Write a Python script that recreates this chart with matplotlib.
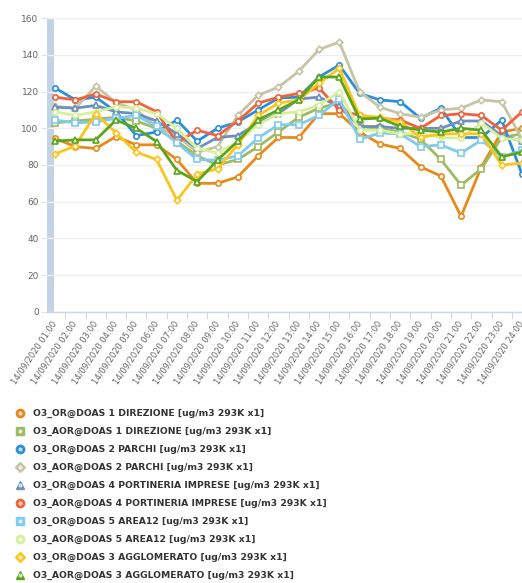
import matplotlib
matplotlib.use("Agg")
import matplotlib.pyplot as plt
from matplotlib.lines import Line2D
import numpy as np

hours = ["14/09/2020 01:00", "14/09/2020 02:00", "14/09/2020 03:00", "14/09/2020 04:00",
         "14/09/2020 05:00", "14/09/2020 06:00", "14/09/2020 07:00", "14/09/2020 08:00",
         "14/09/2020 09:00", "14/09/2020 10:00", "14/09/2020 11:00", "14/09/2020 12:00",
         "14/09/2020 13:00", "14/09/2020 14:00", "14/09/2020 15:00", "14/09/2020 16:00",
         "14/09/2020 17:00", "14/09/2020 18:00", "14/09/2020 19:00", "14/09/2020 20:00",
         "14/09/2020 21:00", "14/09/2020 22:00", "14/09/2020 23:00", "14/09/2020 24:00"]

or_direzione = [94.5, 90, 89, 95.5, 91, 91, 83, 70, 70, 73.5, 85, 95, 95, 108, 108, 98, 91.5, 89, 79, 74, 52, 79, 98, 100]
aor_direzione = [103, 104, 105, 106, 104, 100, 93, 85, 80, 83, 90, 98, 106, 111, 114, 101, 100, 98, 94, 83, 69, 78, 95, 97]
or_parchi = [122, 115.5, 117, 109, 96, 98, 104.5, 93, 100, 103.5, 110, 116.5, 117, 128, 134.5, 119, 115.5, 114.5, 105.5, 111, 95, 95, 104.5, 75]
aor_parchi = [112, 111, 123, 114, 110, 101, 96, 87, 90, 107, 118, 122.5, 131, 143, 147, 120, 111.5, 108, 106, 110, 111, 115.5, 114.5, 94]
or_portineria = [111.5, 111, 112.5, 109, 108, 104, 97, 89, 95, 96, 103, 108, 116, 117, 112, 101, 101, 100, 100, 100, 104, 104, 96, 93]
aor_portineria = [117, 115.5, 118.7, 114.5, 114.5, 109, 92, 99, 96, 104, 113.7, 117, 119, 122, 110, 107, 105.5, 104.5, 100, 107, 108, 107, 99, 109]
or_area12 = [104.5, 103, 103.5, 105.5, 107, 101, 92, 83, 82.6, 85, 94.7, 102, 102, 107, 116, 94, 97.4, 97, 90, 91, 86.5, 93.6, 84.4, 88]
aor_area12 = [109, 107, 109, 111.7, 111, 108, 100, 89, 86.5, 92.6, 102, 108, 109, 112.7, 120, 99, 99, 97, 97, 95, 94.6, 103, 94.6, 93.6]
or_agglomerato = [86, 90.5, 108, 97.5, 87, 83, 60.7, 75, 78, 91, 107, 113.7, 115.5, 124.5, 132.7, 107, 106, 103.5, 95, 97, 97, 97, 80, 81]
aor_agglomerato = [93, 93.7, 93.7, 104.5, 100, 92.8, 77, 71, 82.7, 93, 104.6, 110, 115.5, 128, 128, 105, 105.6, 101, 99, 98, 100, 99, 84.5, 87]

series_names = ["O3_OR@DOAS 1 DIREZIONE [ug/m3 293K x1]",
                "O3_AOR@DOAS 1 DIREZIONE [ug/m3 293K x1]",
                "O3_OR@DOAS 2 PARCHI [ug/m3 293K x1]",
                "O3_AOR@DOAS 2 PARCHI [ug/m3 293K x1]",
                "O3_OR@DOAS 4 PORTINERIA IMPRESE [ug/m3 293K x1]",
                "O3_AOR@DOAS 4 PORTINERIA IMPRESE [ug/m3 293K x1]",
                "O3_OR@DOAS 5 AREA12 [ug/m3 293K x1]",
                "O3_AOR@DOAS 5 AREA12 [ug/m3 293K x1]",
                "O3_OR@DOAS 3 AGGLOMERATO [ug/m3 293K x1]",
                "O3_AOR@DOAS 3 AGGLOMERATO [ug/m3 293K x1]"]
series_values = [or_direzione, aor_direzione, or_parchi, aor_parchi, or_portineria,
                 aor_portineria, or_area12, aor_area12, or_agglomerato, aor_agglomerato]
colors = ["#e88a1a", "#9dbb61", "#2b90d9", "#c5c5a5", "#6f8fbd",
          "#f0633a", "#80cbef", "#d6f09a", "#fcc51a", "#5aa51d"]
markers = ["o", "s", "o", "D", "^", "o", "s", "o", "D", "^"]
y_ticks = [0, 20, 40, 60, 80, 100, 120, 140, 160]

W, H = 522, 583
fig = plt.figure(figsize=(W / 100, H / 100), dpi=100)
ax_left, ax_right, ax_top, ax_bottom = 47, 522, 18.3, 311.7
ax = fig.add_axes([ax_left / W, 1 - ax_bottom / H, (ax_right - ax_left) / W, (ax_bottom - ax_top) / H])

x = np.arange(len(hours))
ax.set_xlim(-0.4, len(hours) - 1)
ax.set_ylim(0, 160)

# highlighted band at the left
ax.axvspan(-0.4, -0.05, color="#c3d3e6", zorder=0.5, lw=0)

for yv in y_ticks:
    ax.axhline(yv, color="#efefef", lw=1.0, zorder=0.8)

for vals, col, mk in zip(series_values, colors, markers):
    ms = 3.8 if mk != "D" else 3.3
    ax.plot(x, vals, color=col, lw=2.0, marker=mk, ms=ms, mfc="white", mec=col, mew=1.2,
            zorder=2, clip_on=True, solid_joinstyle="round")

for s in ["top", "right", "left"]:
    ax.spines[s].set_visible(False)
ax.spines["bottom"].set_color("#ccd6eb")
ax.spines["bottom"].set_linewidth(1.0)

ax.set_yticks(y_ticks)
ax.set_yticklabels([str(v) for v in y_ticks], fontsize=6.5, color="#666666")
ax.tick_params(axis="y", length=4, width=0.8, color="#dde3ee", pad=2)

ax.set_xticks(x)
ax.set_xticklabels(hours, rotation=56, ha="right", va="center", rotation_mode="anchor",
                   fontsize=6.0, color="#666666")
ax.tick_params(axis="x", which="major", length=0, pad=7)
ax.set_xticks(x[:-1] + 0.5, minor=True)
ax.tick_params(axis="x", which="minor", length=5, width=0.8, color="#ccd6eb")

# legend
y0, pitch = 413, 18
for k, (name, col, mk) in enumerate(zip(series_names, colors, markers)):
    yy = 1 - (y0 + k * pitch) / H
    ms = 6 if mk != "D" else 5
    fig.add_artist(Line2D([20 / W], [yy], transform=fig.transFigure, marker=mk, ms=ms,
                          mfc=col, mec=col, mew=1, linestyle="none"))
    fig.add_artist(Line2D([20 / W], [yy], transform=fig.transFigure, marker="o", ms=2,
                          mfc="white", mec="white", linestyle="none", alpha=0.6))
    fig.text(33 / W, yy, name, fontsize=6.7, fontweight="bold", color="#333333", va="center")

fig.savefig("out.png", dpi=100)
